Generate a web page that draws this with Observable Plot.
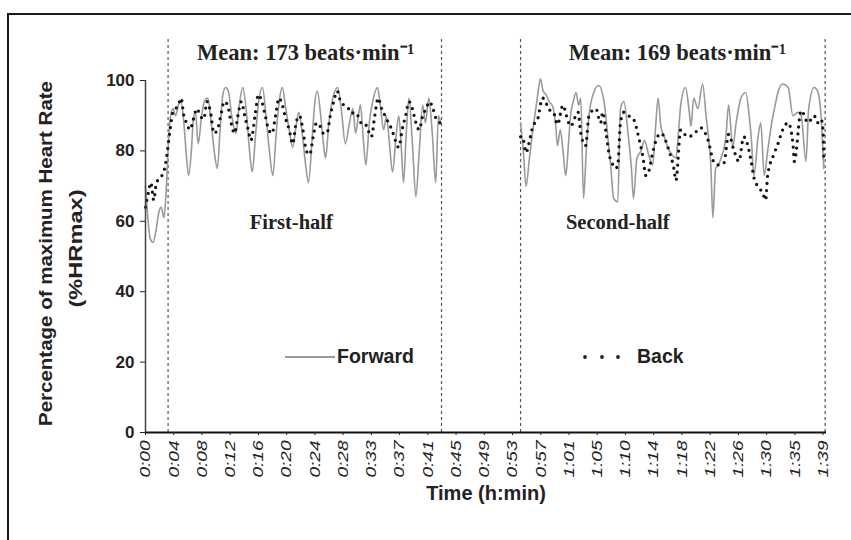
<!DOCTYPE html>
<html><head><meta charset="utf-8">
<script src="https://cdn.jsdelivr.net/npm/d3@7"></script>
<script src="https://cdn.jsdelivr.net/npm/@observablehq/plot@0.6"></script>
<style>
html,body{margin:0;padding:0;background:#fff;}
#wrap{position:relative;width:851px;height:540px;overflow:hidden;background:#fff;}
#frame{position:absolute;left:7px;top:13px;width:870px;height:560px;border-left:2px solid #1a1a1a;border-top:2px solid #1a1a1a;pointer-events:none;}
.legend{position:absolute;font-family:"Liberation Sans",Arial,sans-serif;font-weight:bold;font-size:19.5px;color:#222;display:flex;align-items:center;line-height:1;}
</style></head><body>
<div id="wrap"><div id="chart"></div><div id="frame"></div>
<div class="legend" style="left:285px;top:346px;"><svg width="52" height="22"><line x1="0" x2="50" y1="11" y2="11" stroke="#9a9a9a" stroke-width="2"/></svg><span>Forward</span></div>
<div class="legend" style="left:580px;top:346px;"><svg width="57" height="22"><circle cx="5" cy="11" r="1.9" fill="#222"/><circle cx="22" cy="11" r="1.9" fill="#222"/><circle cx="38" cy="11" r="1.9" fill="#222"/></svg><span>Back</span></div>
</div>
<script>
// ---- axis / labels ----
const timeLabels = ["0:00","0:04","0:08","0:12","0:16","0:20","0:24","0:28","0:33","0:37","0:41","0:45","0:49","0:53","0:57","1:01","1:05","1:10","1:14","1:18","1:22","1:26","1:30","1:35","1:39"];
const matchMinutes = 99;
const yTicks = [0, 20, 40, 60, 80, 100];
const halfBounds = [3.3, 43.25, 54.8, 99.3];   // dashed period lines (min)
const boundaryTop = 112;
const meanTitles = [{t: 23.4, text: "Mean: 173 beats·min⁻¹"}, {t: 77.7, text: "Mean: 169 beats·min⁻¹"}];
const titleLevel = 108;
const halfTitles = [{t: 21.3, text: "First-half"}, {t: 69.0, text: "Second-half"}];
const halfTitleLevel = 59.7;
const yTitle1 = "Percentage of maximum Heart Rate";
const yTitle2 = "(%HRmax)";
const xTitle = "Time (h:min)";

// ---- series: [minute, %HRmax] ----
const forwardFirst = [[0.0,70],[0.3,62],[0.7,55],[1.1,54],[1.5,57],[2.0,63],[2.3,64],[2.7,61],[3.0,68],[3.3,80],[3.6,89],[4.0,92],[4.4,90],[4.8,93],[5.2,94],[5.6,88],[6.0,78],[6.3,73],[6.7,80],[7.0,89],[7.3,91],[7.7,82],[8.2,90],[8.6,94],[9.1,95],[9.6,88],[10.1,79],[10.5,75],[10.9,86],[11.3,96],[11.7,98],[12.1,97],[12.6,90],[13.2,85],[13.7,93],[14.2,98],[14.7,92],[15.2,80],[15.6,74],[16.1,85],[16.6,95],[17.1,98],[17.6,90],[18.1,80],[18.6,73],[19.1,85],[19.6,95],[20.0,98],[20.5,92],[21.0,86],[21.5,81],[22.0,87],[22.4,91],[22.9,85],[23.4,76],[23.8,71],[24.3,82],[24.7,93],[25.1,97],[25.6,90],[26.0,82],[26.3,78],[26.8,88],[27.5,96],[28.1,98],[28.6,92],[29.2,82],[29.8,88],[30.3,92],[30.7,85],[31.1,90],[31.4,93],[31.8,84],[32.2,76],[32.7,88],[33.3,95],[33.9,98],[34.3,93],[34.8,86],[35.2,90],[35.6,83],[36.1,74],[36.6,84],[37.0,90],[37.4,80],[37.7,71],[38.1,85],[38.5,95],[39.0,82],[39.5,67],[40.0,80],[40.5,93],[40.9,88],[41.4,95],[41.9,85],[42.4,71],[42.8,90],[43.1,88]];
const backFirst = [[0.0,64],[0.4,68],[0.8,71],[1.2,66],[1.6,71],[2.0,72],[2.4,73],[2.8,75],[3.2,80],[3.6,86],[4.0,91],[4.4,92],[4.8,93],[5.2,95],[5.6,90],[6.0,88],[6.5,86],[7.0,89],[7.5,92],[8.0,90],[8.5,89],[9.0,94],[9.5,91],[10.0,85],[10.5,86],[11.0,90],[11.5,94],[12.0,93],[12.5,88],[13.0,85],[13.5,90],[14.0,94],[14.5,90],[15.0,86],[15.4,83],[16.0,90],[16.5,96],[17.0,94],[17.5,90],[18.0,86],[18.5,85],[19.0,90],[19.5,95],[20.0,93],[20.5,89],[21.0,86],[21.5,82],[22.0,88],[22.5,90],[23.0,86],[23.5,80],[24.0,79],[24.5,84],[25.0,88],[25.5,87],[26.0,85],[26.5,85],[27.0,90],[27.5,94],[28.0,97],[28.5,94],[29.0,93],[29.5,92],[30.0,92],[30.5,90],[31.0,90],[31.5,88],[32.0,88],[32.5,86],[33.0,84],[33.5,90],[34.0,95],[34.5,92],[35.0,90],[35.5,88],[36.0,86],[36.5,83],[37.0,81],[37.5,86],[38.0,90],[38.5,94],[39.0,92],[39.5,88],[40.0,86],[40.5,90],[41.0,92],[41.5,94],[42.0,92],[42.5,89],[43.0,88]];
const forwardSecond = [[54.8,88],[55.2,80],[55.6,70],[56.1,78],[56.6,86],[57.1,93],[57.5,98.6],[57.7,100.5],[58.1,97],[58.5,96],[59.0,94],[59.5,92.6],[59.9,88],[60.2,81.5],[60.6,86],[61.0,80],[61.4,73],[61.8,82],[62.1,90],[62.5,94],[62.9,96.6],[63.3,93],[63.6,95],[64.0,66.5],[64.4,80],[64.8,90],[65.5,96.6],[66.2,98.6],[67.0,94],[67.5,85],[68.0,75],[68.4,66.5],[69.0,65.5],[69.4,92],[69.9,94],[70.5,85],[71.0,75],[71.3,66.5],[71.8,78],[72.4,80],[72.9,83],[73.5,79],[74.1,76],[74.5,86],[74.9,95],[75.3,87],[75.8,84],[76.3,81],[76.9,79],[77.5,78],[77.9,86],[78.2,93],[78.9,98],[79.4,92],[79.7,87],[80.1,95],[80.7,92],[81.4,99],[81.9,90],[82.3,83],[82.6,76],[82.9,61],[83.3,75],[83.7,76],[84.1,78],[84.8,84],[85.2,93],[85.8,81],[86.3,88],[87.0,95],[87.7,96.6],[88.2,90],[88.5,84],[88.9,73],[89.5,84],[89.9,88],[90.4,73],[90.9,80],[91.5,88],[92.0,93],[92.4,96.6],[93.1,99],[93.9,98],[94.6,90],[95.3,91],[95.8,90],[96.5,77],[96.9,92],[97.7,98],[98.2,97],[98.7,90],[99.1,75]];
const backSecond = [[54.8,84],[55.1,84],[55.6,79.5],[56.0,82],[56.6,87],[57.3,89],[58.0,95],[58.5,94],[58.8,92],[59.6,91],[60.2,87.5],[61.0,93],[61.5,90],[62.1,87],[63.2,91],[63.6,85],[64.3,81.5],[64.8,90],[65.8,92],[66.5,88],[66.8,91],[67.3,85],[67.7,79.5],[68.3,76],[68.7,75],[69.0,76],[69.4,88],[69.9,91],[70.9,89.5],[71.3,89],[72.1,83.5],[72.7,78],[73.1,73],[73.5,74],[74.1,79.5],[74.6,83],[75.3,85],[76.5,80],[77.2,75],[77.5,71.6],[78.2,86],[79.2,84],[80.1,84.7],[81.1,86.6],[82.2,83],[83.0,77],[83.6,76],[84.5,76.5],[85.2,84.7],[86.0,80],[86.7,77],[87.4,84],[88.5,77],[88.9,72.4],[89.6,69.6],[90.2,68],[90.6,66],[90.9,73],[91.8,79],[92.4,82],[93.1,86],[93.9,88],[94.6,82],[94.8,77],[95.8,91.5],[96.8,88],[97.7,90],[98.2,88],[98.7,89],[99.0,86],[99.1,77]];

const rows = [];
function add(series, half, pts) { for (const [t, hr] of pts) rows.push({series, half, t, hr}); }
add("Forward", 1, forwardFirst); add("Forward", 2, forwardSecond);
add("Back", 1, backFirst); add("Back", 2, backSecond);

const tickPositions = timeLabels.map((_, i) => i * matchMinutes / (timeLabels.length - 1));
const labelAt = new Map(tickPositions.map((p, i) => [p, timeLabels[i]]));

const chart = Plot.plot({
  width: 851, height: 540,
  marginLeft: 145, marginRight: 25, marginTop: 80, marginBottom: 108,
  style: {fontFamily: '"Liberation Sans", Arial, sans-serif', background: "white", color: "#222", overflow: "visible"},
  x: {domain: [0, 99.5]},
  y: {domain: [0, 100]},
  marks: [
    Plot.ruleX(halfBounds, {x: d => d, y1: 0, y2: boundaryTop, stroke: "#555", strokeDasharray: "3,3", strokeWidth: 1.2}),
    Plot.line(rows.filter(d => d.series === "Forward"), {x: "t", y: "hr", z: "half", curve: "monotone-x", stroke: "#9a9a9a", strokeWidth: 1.6}),
    Plot.line(rows.filter(d => d.series === "Back"), {x: "t", y: "hr", z: "half", curve: "monotone-x", stroke: "#151515", strokeWidth: 3.3, strokeDasharray: "0,7", strokeLinecap: "round"}),
    Plot.ruleX([0], {stroke: "#444", strokeWidth: 1.5}),
    Plot.ruleY([0], {stroke: "#111", strokeWidth: 2}),
    Plot.axisY({ticks: yTicks, tickSize: 5, tickPadding: 6, fontWeight: "bold", fontSize: 17, label: null}),
    Plot.axisX({ticks: tickPositions, tickFormat: d => labelAt.get(d), tickRotate: -90, tickSize: 3, tickPadding: 5, fontSize: 15, fontStyle: "italic", label: null}),
    Plot.text(meanTitles, {x: "t", y: () => titleLevel, text: "text", fontFamily: '"Liberation Serif", "Times New Roman", serif', fontWeight: "bold", fontSize: 22.5, fill: "#222"}),
    Plot.text(halfTitles, {x: "t", y: () => halfTitleLevel, text: "text", fontFamily: '"Liberation Serif", "Times New Roman", serif', fontWeight: "bold", fontSize: 20.5, fill: "#222"}),
    Plot.text([yTitle1], {text: d => d, frameAnchor: "left", textAnchor: "middle", lineAnchor: "middle", rotate: -90, dx: -100, dy: -3, fontWeight: "bold", fontSize: 19, fill: "#222"}),
    Plot.text([yTitle2], {text: d => d, frameAnchor: "left", textAnchor: "middle", lineAnchor: "middle", rotate: -90, dx: -70, dy: -8, fontWeight: "bold", fontSize: 19, fill: "#222"}),
    Plot.text([xTitle], {text: d => d, frameAnchor: "bottom", textAnchor: "middle", lineAnchor: "middle", dy: 61, fontWeight: "bold", fontSize: 20, fill: "#222"})
  ]
});
document.getElementById("chart").appendChild(chart);

// stretch rotated texts to the lengths seen in the reference
d3.select(chart).selectAll("text").each(function () {
  const s = this.textContent;
  if (s === yTitle1) { this.setAttribute("textLength", 345); this.setAttribute("lengthAdjust", "spacingAndGlyphs"); }
  else if (s === yTitle2) { this.setAttribute("textLength", 118); this.setAttribute("lengthAdjust", "spacingAndGlyphs"); }
  else if (timeLabels.includes(s)) { this.setAttribute("textLength", 37); this.setAttribute("lengthAdjust", "spacingAndGlyphs"); }
});
</script>
</body></html>
